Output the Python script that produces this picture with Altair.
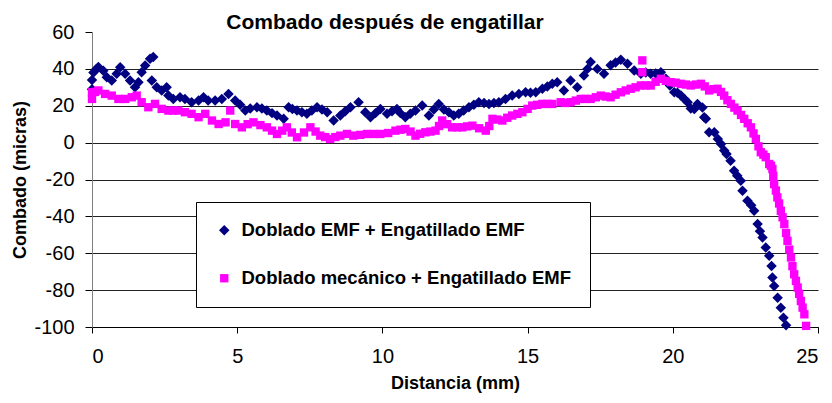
import altair as alt
import pandas as pd

titulo = "Combado después de engatillar"
titulo_x = "Distancia (mm)"
titulo_y = "Combado (micras)"
serie_a = "Doblado EMF + Engatillado EMF"
serie_b = "Doblado mecánico + Engatillado EMF"
x_ticks = [0, 5, 10, 15, 20, 25]
y_ticks = [-100, -80, -60, -40, -20, 0, 20, 40, 60]

nav_x = [0.0, 0.0, 0.05, 0.15, 0.22, 0.39, 0.51, 0.68, 0.85, 0.97, 1.14, 1.31, 1.48, 1.6, 1.71,
         1.83, 2.0, 2.11, 2.06, 2.23, 2.4, 2.57, 2.63, 2.8, 3.03, 3.2, 3.43, 3.67, 3.84, 4.0,
         4.24, 4.47, 4.7, 4.93, 5.1, 5.28, 5.45, 5.68, 5.85, 6.02, 6.2, 6.37, 6.6, 6.77, 6.9,
         7.06, 7.23, 7.4, 7.57, 7.75, 7.92, 8.1, 8.32, 8.55, 8.72, 8.9, 9.18, 9.41, 9.59, 9.76,
         9.93, 10.16, 10.33, 10.5, 10.62, 10.79, 10.96, 11.14, 11.37, 11.6, 11.77, 11.94, 12.12,
         12.29, 12.46, 12.63, 12.8, 12.98, 13.15, 13.32, 13.5, 13.67, 13.84, 14.01, 14.24, 14.47,
         14.7, 14.93, 15.1, 15.28, 15.51, 15.68, 15.85, 16.02, 16.25, 16.48, 16.71, 16.94, 17.06,
         17.17, 17.4, 17.63, 17.86, 18.03, 18.21, 18.44, 18.67, 18.9, 19.07, 19.24, 19.41, 19.59,
         19.76, 19.9, 20.05, 20.16, 20.28, 20.4, 20.51, 20.62, 20.74, 20.85, 21.02, 21.08, 21.14,
         21.25, 21.43, 21.55, 21.66, 21.77, 21.85, 21.99, 22.11, 22.22, 22.34, 22.4, 22.57, 22.7,
         22.8, 22.92, 23.0, 23.09, 23.2, 23.32, 23.4, 23.43, 23.49, 23.61, 23.72, 23.81, 23.9]
nav_y = [29, 34, 38, 40, 41, 39, 35.5, 33.7, 37.3, 40.9, 37.3, 33.7, 30, 32.8, 38.2,
         41.8, 45.5, 46.4, 33.7, 30, 28.3, 30, 25.5, 23.7, 24.6, 23.7, 21.9, 22.8, 24.6, 22.8,
         22.8, 23.7, 26.4, 22.8, 20.5, 17.4, 18.5, 19.2, 18.5, 17.4, 16, 14.7, 12.9, 19.2, 18.3,
         17.4, 16.5, 15.6, 17.4, 19.2, 18, 16.5, 12, 14.7, 17, 19.2, 21.9, 16.5, 13.8, 16,
         18.3, 15.6, 17, 18.3, 16, 13.8, 15.6, 17.4, 20.1, 14.7, 18, 21, 18,
         16.5, 14.7, 15.6, 17.4, 19.2, 20.5, 21.9, 21.5, 21, 21.5, 21.9, 23.7, 25.5,
         26.4, 27.3, 27, 27.3, 29.2, 30.5, 31.9, 32.8, 28.3, 33.7, 30, 36.4, 40,
         43.7, 40, 37.3, 42, 43.5, 45, 42.8, 39.1, 37.3, 38, 37.3, 37.5, 38.2,
         34.6, 31, 27.3, 27, 25.5, 23.7, 21.9, 18.5, 18.3, 21, 19, 13.8, 12.9,
         5.6, 5.6, 2, -0.7, -4.3, -6.2, -9.8, -15.2, -18, -20.7, -26.1, -31.5, -34,
         -37, -44.2, -48, -51.5, -56.9, -61.4, -66.9, -73.2, -77.7, -84.1, -89.5, -95, -99]

mag_x = [0.0, 0.0, 0.1, 0.22, 0.45, 0.68, 0.91, 1.14, 1.37, 1.54, 1.71, 1.94, 2.17, 2.4, 2.63,
         2.8, 2.97, 3.2, 3.43, 3.67, 3.9, 4.13, 4.36, 4.6, 4.76, 4.93, 5.16, 5.36, 5.56, 5.8,
         6.02, 6.2, 6.37, 6.55, 6.71, 6.88, 7.06, 7.3, 7.52, 7.7, 7.86, 8.03, 8.2, 8.38, 8.55,
         8.78, 9.0, 9.24, 9.47, 9.7, 9.93, 10.2, 10.45, 10.62, 10.79, 10.97, 11.14, 11.3, 11.48,
         11.65, 11.83, 11.95, 12.06, 12.23, 12.4, 12.57, 12.75, 12.92, 13.1, 13.33, 13.56, 13.68,
         13.79, 13.96, 14.13, 14.3, 14.47, 14.65, 14.82, 15.0, 15.16, 15.33, 15.51, 15.68, 15.85,
         16.14, 16.3, 16.48, 16.66, 16.83, 17.0, 17.17, 17.35, 17.52, 17.69, 17.86, 18.03, 18.21,
         18.38, 18.55, 18.72, 18.9, 18.95, 18.95, 19.07, 19.24, 19.41, 19.59, 19.76, 19.93, 20.1,
         20.28, 20.45, 20.62, 20.8, 20.97, 21.1, 21.25, 21.4, 21.54, 21.66, 21.77, 21.88, 22.0,
         22.12, 22.23, 22.35, 22.46, 22.58, 22.69, 22.78, 22.86, 22.95, 23.03, 23.12, 23.2, 23.32,
         23.38, 23.43, 23.46, 23.49, 23.55, 23.6, 23.66, 23.72, 23.78, 23.84, 23.9, 23.95, 24.01,
         24.07, 24.12, 24.18, 24.24, 24.3, 24.35, 24.41, 24.47, 24.53, 24.59]
mag_y = [23.7, 27.3, 27.5, 28.3, 26.4, 25.5, 23.7, 23.7, 24.6, 25.5, 21.9, 19.2, 21, 18.3, 17.4,
         17.4, 17.4, 16.5, 15.6, 13.8, 15.6, 12, 10.1, 11, 17.4, 10.1, 8.3, 10, 11, 9.5,
         8.3, 6.5, 4.7, 6.5, 8.3, 5.5, 2.9, 5.5, 8.3, 6, 3.8, 3, 2, 3, 3.8,
         4.7, 3.8, 4.2, 4.7, 4.7, 4.7, 5.2, 6.5, 7, 7.4, 6, 3.8, 4.8, 5.6,
         6, 6.5, 9, 12, 10, 8.3, 8.3, 8.3, 8.8, 9.2, 7.8, 6.5, 9,
         12.9, 12.5, 12, 13.5, 14.7, 15.6, 16.5, 18.3, 20.1, 20.5, 21, 21, 21,
         21.9, 21.5, 21.9, 22.8, 23.7, 23.7, 23.7, 24.6, 25.5, 25, 24.6, 26, 27.3,
         28.3, 29.2, 30, 31, 44.6, 38.2, 31, 31, 33, 34.6, 33.5, 32.8, 32.5,
         31.9, 31.5, 31, 31.5, 31.9, 30.5, 28.3, 29, 29.2, 27.5, 25.5, 23, 21,
         19, 17.4, 15, 12.9, 10.5, 8.3, 5, 2, -2, -5.2, -6.5, -7.9, -11.6,
         -12.5, -14.3, -18, -22.5, -26, -29.7, -33, -37, -40.5, -44.2, -49, -53.3, -58,
         -62.3, -67, -71.4, -75, -78.6, -82, -85.9, -89.5, -93.1, -99.4]

df = pd.DataFrame({
    "x": nav_x + mag_x,
    "y": nav_y + mag_y,
    "serie": [serie_a] * len(nav_x) + [serie_b] * len(mag_x),
})

FONT = "Liberation Sans"
series = [serie_a, serie_b]

leg = alt.Legend(
    title=None, orient="none", legendX=104, legendY=170, direction="vertical",
    labelFont=FONT, labelFontSize=18.5, labelFontWeight="bold", labelColor="black",
    symbolSize=64, padding=19, rowPadding=29, labelOffset=8, labelLimit=500,
    strokeColor="black", fillColor="white", symbolStrokeWidth=0, symbolOpacity=1,
)

chart = alt.Chart(
    df,
    title=alt.Title(titulo, font=FONT, fontSize=21, fontWeight="bold", color="black",
                    anchor="middle", dx=-70, offset=-11),
).mark_point(filled=True, opacity=1, strokeWidth=0).encode(
    x=alt.X("x:Q", scale=alt.Scale(domain=[0, 25], nice=False, zero=False),
            axis=alt.Axis(values=x_ticks, title=titulo_x, grid=False, domainColor="black",
                          tickColor="black", tickSize=6, labelFontSize=20, labelPadding=13,
                          labelFont=FONT, labelColor="black", titleFont=FONT, titleFontSize=18,
                          titleFontWeight="bold", titleColor="black",
                          titleX=363, titleY=61, titleBaseline="alphabetic", titleAlign="center")),
    y=alt.Y("y:Q", scale=alt.Scale(domain=[-100, 60], nice=False, zero=False),
            axis=alt.Axis(values=y_ticks, title=titulo_y, grid=True, gridColor="#222",
                          gridOpacity={"condition": {"test": "datum.value == 60", "value": 0}, "value": 1},
                          labelExpr="'' + datum.value",
                          domainColor="#808080", tickColor="black", tickSize=7,
                          labelFontSize=20, labelPadding=11, labelFont=FONT, labelColor="black",
                          titleFont=FONT, titleFontSize=18, titleFontWeight="bold",
                          titleColor="black", titleX=-67, titleY=147.5, titleAngle=270,
                          titleBaseline="alphabetic", titleAlign="center")),
    color=alt.Color("serie:N", scale=alt.Scale(domain=series, range=["#000080", "#FF00FF"]), legend=leg),
    shape=alt.Shape("serie:N", scale=alt.Scale(domain=series, range=["diamond", "square"]), legend=leg),
    size=alt.Size("serie:N", scale=alt.Scale(domain=series, range=[110, 70]), legend=None),
).properties(
    width=726, height=295,
    autosize=alt.AutoSizeParams(type="none"),
    padding={"left": 84, "top": 24, "right": 6, "bottom": 66},
).configure_view(strokeWidth=0)

chart.save("out.html", embed_options={"renderer": "svg", "actions": False})
